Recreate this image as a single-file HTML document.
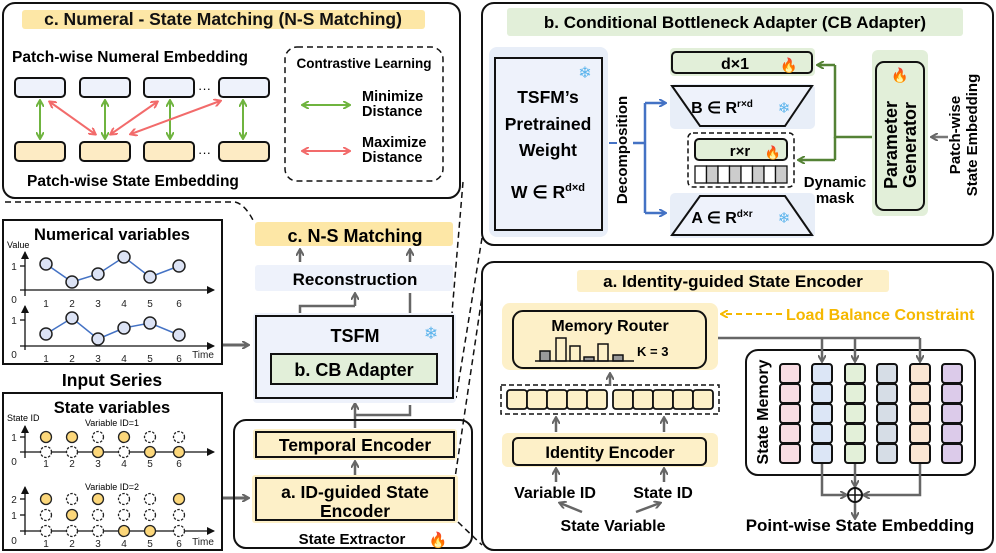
<!DOCTYPE html>
<html><head><meta charset="utf-8"><style>
body{margin:0;background:#fff}
svg{display:block;font-family:"Liberation Sans",sans-serif}
.b{font-weight:bold}
</style></head><body>
<svg width="996" height="553" viewBox="0 0 996 553" xmlns="http://www.w3.org/2000/svg">
<defs>
<marker id="ag" markerWidth="8" markerHeight="8" refX="6" refY="4" orient="auto-start-reverse" markerUnits="userSpaceOnUse"><path d="M0,0 L7,4 L0,8" fill="none" stroke="#6fb43f" stroke-width="2"/></marker>
<marker id="ar" markerWidth="8" markerHeight="8" refX="6" refY="4" orient="auto-start-reverse" markerUnits="userSpaceOnUse"><path d="M0,0 L7,4 L0,8" fill="none" stroke="#f26b6b" stroke-width="2"/></marker>
<marker id="ay" markerWidth="8" markerHeight="8" refX="6" refY="4" orient="auto-start-reverse" markerUnits="userSpaceOnUse"><path d="M0,0 L7,4 L0,8" fill="none" stroke="#666" stroke-width="2"/></marker>
<marker id="ab" markerWidth="8" markerHeight="8" refX="6" refY="4" orient="auto-start-reverse" markerUnits="userSpaceOnUse"><path d="M0,0 L7,4 L0,8" fill="none" stroke="#4472c4" stroke-width="2"/></marker>
<marker id="agn" markerWidth="8" markerHeight="8" refX="6" refY="4" orient="auto-start-reverse" markerUnits="userSpaceOnUse"><path d="M0,0 L7,4 L0,8" fill="none" stroke="#548235" stroke-width="2"/></marker>
<marker id="ao" markerWidth="8" markerHeight="8" refX="6" refY="4" orient="auto-start-reverse" markerUnits="userSpaceOnUse"><path d="M0,0 L7,4 L0,8" fill="none" stroke="#f5b800" stroke-width="2"/></marker>
<marker id="ak" markerWidth="8" markerHeight="8" refX="7" refY="4" orient="auto" markerUnits="userSpaceOnUse"><path d="M0,0 L8,4 L0,8 Z" fill="#111"/></marker>
</defs>

<!-- ===== Panel c ===== -->
<rect x="3" y="3" width="457" height="195" rx="12" fill="#fff" stroke="#111" stroke-width="2"/>
<rect x="22" y="10" width="403" height="19" rx="3" fill="#fde7a6"/>
<text x="223" y="25" font-size="17.5" class="b" text-anchor="middle" fill="#111">c. Numeral - State Matching (N-S Matching)</text>
<text x="12" y="62" font-size="15.5" class="b">Patch-wise Numeral Embedding</text>
<g stroke="#111" stroke-width="2">
<rect x="15" y="78" width="50" height="19" rx="4" fill="#eef2fb"/>
<rect x="80" y="78" width="50" height="19" rx="4" fill="#eef2fb"/>
<rect x="144" y="78" width="50" height="19" rx="4" fill="#eef2fb"/>
<rect x="219" y="78" width="50" height="19" rx="4" fill="#eef2fb"/>
<rect x="15" y="142" width="50" height="19" rx="4" fill="#fdebc4"/>
<rect x="80" y="142" width="50" height="19" rx="4" fill="#fdebc4"/>
<rect x="144" y="142" width="50" height="19" rx="4" fill="#fdebc4"/>
<rect x="219" y="142" width="50" height="19" rx="4" fill="#fdebc4"/>
</g>
<text x="198" y="93" font-size="13">···</text>
<text x="198" y="157" font-size="13">···</text>
<g stroke-width="2" fill="none">
<line x1="40" y1="101" x2="40" y2="138" stroke="#6fb43f" marker-start="url(#ag)" marker-end="url(#ag)"/>
<line x1="105" y1="101" x2="105" y2="138" stroke="#6fb43f" marker-start="url(#ag)" marker-end="url(#ag)"/>
<line x1="170" y1="101" x2="170" y2="138" stroke="#6fb43f" marker-start="url(#ag)" marker-end="url(#ag)"/>
<line x1="243" y1="101" x2="243" y2="138" stroke="#6fb43f" marker-start="url(#ag)" marker-end="url(#ag)"/>
<line x1="50" y1="102" x2="95" y2="134" stroke="#f26b6b" marker-start="url(#ar)" marker-end="url(#ar)"/>
<line x1="157" y1="102" x2="111" y2="134" stroke="#f26b6b" marker-start="url(#ar)" marker-end="url(#ar)"/>
<line x1="220" y1="101" x2="131" y2="134" stroke="#f26b6b" marker-start="url(#ar)" marker-end="url(#ar)"/>
</g>
<text x="27" y="186" font-size="15.5" class="b">Patch-wise State Embedding</text>
<rect x="285" y="47" width="158" height="134" rx="12" fill="none" stroke="#111" stroke-width="1.5" stroke-dasharray="6,4"/>
<text x="364" y="68" font-size="13.5" class="b" text-anchor="middle">Contrastive Learning</text>
<line x1="303" y1="105" x2="349" y2="105" stroke="#6fb43f" stroke-width="2" marker-start="url(#ag)" marker-end="url(#ag)"/>
<text x="362" y="101" font-size="14.5" class="b">Minimize</text>
<text x="362" y="116" font-size="14.5" class="b">Distance</text>
<line x1="303" y1="151" x2="349" y2="151" stroke="#f26b6b" stroke-width="2" marker-start="url(#ar)" marker-end="url(#ar)"/>
<text x="362" y="147" font-size="14.5" class="b">Maximize</text>
<text x="362" y="162" font-size="14.5" class="b">Distance</text>

<!-- dashed connectors -->
<g fill="none" stroke="#111" stroke-width="1.5" stroke-dasharray="6,4">
<path d="M5,202 L235,202 Q245,204 254,222"/>
<line x1="463" y1="182" x2="452" y2="313"/>
<line x1="482" y1="238" x2="456" y2="398"/>
<line x1="483" y1="290" x2="455" y2="478"/>
<line x1="458" y1="522" x2="482" y2="545"/>
</g>

<!-- ===== Panel b ===== -->
<rect x="482" y="3" width="511" height="242" rx="12" fill="#fff" stroke="#111" stroke-width="2"/>
<rect x="507" y="8" width="456" height="28" rx="3" fill="#e2efd9"/>
<text x="735" y="28" font-size="17" class="b" text-anchor="middle">b.  Conditional Bottleneck Adapter (CB Adapter)</text>
<rect x="489" y="47" width="119" height="190" rx="8" fill="#e8eef8"/>
<rect x="495" y="58" width="107" height="172" fill="#eef2fb" stroke="#111" stroke-width="2"/>
<text x="585" y="78" font-size="16" fill="#5bb4ec" text-anchor="middle">❄</text>
<g font-size="17.5" class="b" text-anchor="middle">
<text x="548" y="103">TSFM’s</text>
<text x="548" y="130">Pretrained</text>
<text x="548" y="156">Weight</text>
<text x="548" y="198">W ∈ R<tspan font-size="11" dy="-7">d×d</tspan></text>
</g>
<text transform="translate(627,150) rotate(-90)" font-size="15" class="b" text-anchor="middle">Decomposition</text>
<line x1="609" y1="143" x2="617" y2="143" stroke="#4472c4" stroke-width="2"/>
<g fill="none" stroke="#4472c4" stroke-width="2.5">
<path d="M633,143 H645"/>
<path d="M645,103 V213"/>
<line x1="645" y1="103" x2="665" y2="103" marker-end="url(#ab)"/>
<line x1="645" y1="213" x2="665" y2="213" marker-end="url(#ab)"/>
</g>
<rect x="670" y="48" width="145" height="28" rx="4" fill="#e2efd9"/>
<rect x="672" y="52" width="140" height="21" rx="4" fill="#e2efd9" stroke="#111" stroke-width="2"/>
<text x="735" y="69" font-size="16" class="b" text-anchor="middle">d×1</text>
<text x="789" y="70" font-size="14" fill="#f05a1a" text-anchor="middle">🔥</text>
<rect x="670" y="84" width="145" height="45" rx="5" fill="#e8eef8"/>
<polygon points="672,86 812,86 785,126 700,126" fill="#eef2fb" stroke="#111" stroke-width="2"/>
<text x="722" y="113" font-size="16" class="b" text-anchor="middle">B ∈ R<tspan font-size="10" dy="-6">r×d</tspan></text>
<text x="784" y="113" font-size="15" fill="#5bb4ec" text-anchor="middle">❄</text>
<rect x="688" y="133" width="106" height="54" rx="5" fill="none" stroke="#111" stroke-width="1.5" stroke-dasharray="5,3"/>
<rect x="695" y="139" width="92" height="21" rx="4" fill="#e2efd9" stroke="#111" stroke-width="2"/>
<text x="740" y="156" font-size="15" class="b" text-anchor="middle">r×r</text>
<text x="773" y="157" font-size="13" fill="#f05a1a" text-anchor="middle">🔥</text>
<g stroke="#111" stroke-width="1.3">
<rect x="695" y="166" width="11.5" height="17" fill="#fff"/><rect x="706.5" y="166" width="11.5" height="17" fill="#ccc"/>
<rect x="718" y="166" width="11.5" height="17" fill="#fff"/><rect x="729.5" y="166" width="11.5" height="17" fill="#ccc"/>
<rect x="741" y="166" width="11.5" height="17" fill="#fff"/><rect x="752.5" y="166" width="11.5" height="17" fill="#ccc"/>
<rect x="764" y="166" width="11.5" height="17" fill="#fff"/><rect x="775.5" y="166" width="11.5" height="17" fill="#ccc"/>
</g>
<text x="835" y="187" font-size="15" class="b" text-anchor="middle">Dynamic</text>
<text x="835" y="203" font-size="15" class="b" text-anchor="middle">mask</text>
<rect x="670" y="193" width="145" height="45" rx="5" fill="#e8eef8"/>
<polygon points="700,196 785,196 812,235 672,235" fill="#eef2fb" stroke="#111" stroke-width="2"/>
<text x="722" y="223" font-size="16" class="b" text-anchor="middle">A ∈ R<tspan font-size="10" dy="-6">d×r</tspan></text>
<text x="784" y="223" font-size="15" fill="#5bb4ec" text-anchor="middle">❄</text>
<g fill="none" stroke="#548235" stroke-width="2.5">
<path d="M872,137 H835 V65"/>
<path d="M835,137 V160"/>
<line x1="835" y1="65" x2="818" y2="65" marker-end="url(#agn)"/>
<line x1="835" y1="160" x2="799" y2="160" marker-end="url(#agn)"/>
</g>
<rect x="872" y="50" width="56" height="166" rx="6" fill="#e2efd9"/>
<rect x="876" y="62" width="48" height="148" rx="8" fill="#e2efd9" stroke="#111" stroke-width="2"/>
<text x="900" y="80" font-size="14" fill="#f05a1a" text-anchor="middle">🔥</text>
<text transform="translate(897,145) rotate(-90)" font-size="18" class="b" text-anchor="middle">Parameter</text>
<text transform="translate(916,145) rotate(-90)" font-size="18" class="b" text-anchor="middle">Generator</text>
<line x1="948" y1="137" x2="932" y2="137" stroke="#777" stroke-width="2.5" marker-end="url(#ay)"/>
<text transform="translate(960,135) rotate(-90)" font-size="15" class="b" text-anchor="middle">Patch-wise</text>
<text transform="translate(977,135) rotate(-90)" font-size="15" class="b" text-anchor="middle">State Embedding</text>

<!-- ===== Panel a ===== -->
<rect x="482" y="262" width="511" height="288" rx="12" fill="#fff" stroke="#111" stroke-width="2"/>
<rect x="577" y="270" width="312" height="22" rx="3" fill="#fdf0c8"/>
<text x="733" y="287" font-size="17" class="b" text-anchor="middle">a. Identity-guided State Encoder</text>
<rect x="502" y="303" width="216" height="67" rx="8" fill="#fdf0c8"/>
<rect x="513" y="311" width="193" height="57" rx="10" fill="#fdf0c8" stroke="#111" stroke-width="2"/>
<text x="610" y="331" font-size="16" class="b" text-anchor="middle">Memory  Router</text>
<g stroke="#111" stroke-width="1.5">
<rect x="540" y="351" width="10" height="10" fill="#999"/>
<rect x="556" y="338" width="10" height="23" fill="#fdf0c8"/>
<rect x="570" y="346" width="10" height="15" fill="#fdf0c8"/>
<rect x="584" y="357" width="10" height="4" fill="#999"/>
<rect x="598" y="344" width="10" height="17" fill="#fdf0c8"/>
<rect x="613" y="355" width="10" height="6" fill="#999"/>
</g>
<line x1="535" y1="361" x2="634" y2="361" stroke="#111" stroke-width="1.5"/>
<text x="637" y="356" font-size="13" class="b">K = 3</text>
<line x1="782" y1="314" x2="722" y2="314" stroke="#f5b800" stroke-width="2" stroke-dasharray="6,4" marker-end="url(#ao)"/>
<text x="786" y="320" font-size="16" class="b" fill="#f5b800">Load Balance Constraint</text>
<rect x="501" y="385" width="218" height="29" fill="none" stroke="#111" stroke-width="1.5" stroke-dasharray="5,3"/>
<g stroke="#111" stroke-width="1.8" fill="#fdf0c8">
<rect x="507" y="390" width="20" height="19" rx="3"/><rect x="527" y="390" width="20" height="19" rx="3"/><rect x="547" y="390" width="20" height="19" rx="3"/><rect x="567" y="390" width="20" height="19" rx="3"/><rect x="587" y="390" width="20" height="19" rx="3"/>
<rect x="613" y="390" width="20" height="19" rx="3"/><rect x="633" y="390" width="20" height="19" rx="3"/><rect x="653" y="390" width="20" height="19" rx="3"/><rect x="673" y="390" width="20" height="19" rx="3"/><rect x="693" y="390" width="20" height="19" rx="3"/>
</g>
<g stroke="#666" stroke-width="2.5">
<line x1="610" y1="386" x2="610" y2="374" marker-end="url(#ay)"/>
<line x1="556" y1="432" x2="556" y2="418" marker-end="url(#ay)"/>
<line x1="664" y1="432" x2="664" y2="418" marker-end="url(#ay)"/>
<line x1="556" y1="482" x2="556" y2="469" marker-end="url(#ay)"/>
<line x1="664" y1="482" x2="664" y2="469" marker-end="url(#ay)"/>
<line x1="582" y1="512" x2="560" y2="503" marker-end="url(#ay)"/>
<line x1="636" y1="512" x2="660" y2="503" marker-end="url(#ay)"/>
</g>
<rect x="502" y="433" width="216" height="34" rx="6" fill="#fdf0c8"/>
<rect x="513" y="438" width="193" height="27" rx="5" fill="#fdf0c8" stroke="#111" stroke-width="2"/>
<text x="610" y="458" font-size="16.5" class="b" text-anchor="middle">Identity Encoder</text>
<text x="555" y="498" font-size="16" class="b" text-anchor="middle">Variable ID</text>
<text x="663" y="498" font-size="16" class="b" text-anchor="middle">State ID</text>
<text x="613" y="531" font-size="16" class="b" text-anchor="middle">State Variable</text>

<rect x="746" y="350" width="229" height="125" rx="12" fill="#fff" stroke="#111" stroke-width="2"/>
<text transform="translate(768,412) rotate(-90)" font-size="16" class="b" text-anchor="middle">State Memory</text>
<g stroke="#111" stroke-width="2">
<g fill="#f9dde3"><rect x="780" y="364" width="20" height="19" rx="3"/><rect x="780" y="384" width="20" height="19" rx="3"/><rect x="780" y="404" width="20" height="19" rx="3"/><rect x="780" y="424" width="20" height="19" rx="3"/><rect x="780" y="444" width="20" height="19" rx="3"/></g>
<g fill="#dce6f6"><rect x="812" y="364" width="20" height="19" rx="3"/><rect x="812" y="384" width="20" height="19" rx="3"/><rect x="812" y="404" width="20" height="19" rx="3"/><rect x="812" y="424" width="20" height="19" rx="3"/><rect x="812" y="444" width="20" height="19" rx="3"/></g>
<g fill="#e3f0d9"><rect x="845" y="364" width="20" height="19" rx="3"/><rect x="845" y="384" width="20" height="19" rx="3"/><rect x="845" y="404" width="20" height="19" rx="3"/><rect x="845" y="424" width="20" height="19" rx="3"/><rect x="845" y="444" width="20" height="19" rx="3"/></g>
<g fill="#d6dde6"><rect x="877" y="364" width="20" height="19" rx="3"/><rect x="877" y="384" width="20" height="19" rx="3"/><rect x="877" y="404" width="20" height="19" rx="3"/><rect x="877" y="424" width="20" height="19" rx="3"/><rect x="877" y="444" width="20" height="19" rx="3"/></g>
<g fill="#fbe6d3"><rect x="910" y="364" width="20" height="19" rx="3"/><rect x="910" y="384" width="20" height="19" rx="3"/><rect x="910" y="404" width="20" height="19" rx="3"/><rect x="910" y="424" width="20" height="19" rx="3"/><rect x="910" y="444" width="20" height="19" rx="3"/></g>
<g fill="#dccbea"><rect x="942" y="364" width="20" height="19" rx="3"/><rect x="942" y="384" width="20" height="19" rx="3"/><rect x="942" y="404" width="20" height="19" rx="3"/><rect x="942" y="424" width="20" height="19" rx="3"/><rect x="942" y="444" width="20" height="19" rx="3"/></g>
</g>
<g fill="none" stroke="#666" stroke-width="2.5">
<path d="M718,338 H920"/>
<line x1="822" y1="338" x2="822" y2="361" marker-end="url(#ay)"/>
<line x1="855" y1="338" x2="855" y2="361" marker-end="url(#ay)"/>
<line x1="920" y1="338" x2="920" y2="361" marker-end="url(#ay)"/>
<path d="M822,464 V495 H846" marker-end="url(#ay)"/>
<path d="M920,464 V495 H864" marker-end="url(#ay)"/>
<line x1="855" y1="464" x2="855" y2="486" marker-end="url(#ay)"/>
<line x1="855" y1="503" x2="855" y2="518" marker-end="url(#ay)"/>
</g>
<circle cx="855" cy="495" r="7" fill="#fff" stroke="#111" stroke-width="2"/>
<path d="M848,495 H862 M855,488 V502" stroke="#111" stroke-width="1.5"/>
<text x="860" y="531" font-size="17" class="b" text-anchor="middle">Point-wise State Embedding</text>

<!-- ===== Left series ===== -->
<rect x="3" y="220" width="219" height="144" fill="#fff" stroke="#111" stroke-width="2"/>
<text x="112" y="240" font-size="16.5" class="b" text-anchor="middle">Numerical variables</text>
<text x="7" y="248" font-size="9">Value</text>
<g stroke="#111" stroke-width="1.3" fill="none">
<line x1="25" y1="296" x2="25" y2="252" marker-end="url(#ak)"/>
<line x1="20" y1="290" x2="214" y2="290" marker-end="url(#ak)"/>
<line x1="25" y1="350" x2="25" y2="306" marker-end="url(#ak)"/>
<line x1="20" y1="346" x2="214" y2="346" marker-end="url(#ak)"/>
<line x1="20" y1="266" x2="25" y2="266"/><line x1="20" y1="320" x2="25" y2="320"/>
</g>
<polyline points="46,264 72,282 98,274 124,257 150,277 179,266" fill="none" stroke="#4472c4" stroke-width="1.5"/>
<polyline points="46,334 72,318 98,339 124,328 150,323 179,335" fill="none" stroke="#4472c4" stroke-width="1.5"/>
<g fill="#dce3f5" stroke="#222" stroke-width="1.5">
<circle cx="46" cy="264" r="6"/><circle cx="72" cy="282" r="6"/><circle cx="98" cy="274" r="6"/><circle cx="124" cy="257" r="6"/><circle cx="150" cy="277" r="6"/><circle cx="179" cy="266" r="6"/>
<circle cx="46" cy="334" r="6"/><circle cx="72" cy="318" r="6"/><circle cx="98" cy="339" r="6"/><circle cx="124" cy="328" r="6"/><circle cx="150" cy="323" r="6"/><circle cx="179" cy="335" r="6"/>
</g>
<g font-size="10" text-anchor="middle" fill="#222">
<text x="14" y="270">1</text><text x="14" y="303">0</text><text x="14" y="324">1</text><text x="14" y="358">0</text>
<text x="46" y="307">1</text><text x="72" y="307">2</text><text x="98" y="307">3</text><text x="124" y="307">4</text><text x="150" y="307">5</text><text x="179" y="307">6</text>
<text x="46" y="362">1</text><text x="72" y="362">2</text><text x="98" y="362">3</text><text x="124" y="362">4</text><text x="150" y="362">5</text><text x="179" y="362">6</text>
<text x="203" y="358">Time</text>
</g>
<text x="112" y="386" font-size="17.5" class="b" text-anchor="middle">Input Series</text>

<rect x="3" y="393" width="219" height="157" fill="#fff" stroke="#111" stroke-width="2"/>
<text x="112" y="413" font-size="16.5" class="b" text-anchor="middle">State variables</text>
<text x="7" y="421" font-size="9">State ID</text>
<text x="112" y="426" font-size="9" text-anchor="middle">Variable ID=1</text>
<text x="112" y="490" font-size="9" text-anchor="middle">Variable ID=2</text>
<g stroke="#111" stroke-width="1.3" fill="none">
<line x1="25" y1="458" x2="25" y2="426" marker-end="url(#ak)"/>
<line x1="20" y1="452" x2="214" y2="452" marker-end="url(#ak)"/>
<line x1="25" y1="535" x2="25" y2="487" marker-end="url(#ak)"/>
<line x1="20" y1="531" x2="214" y2="531" marker-end="url(#ak)"/>
<line x1="20" y1="437" x2="25" y2="437"/><line x1="20" y1="499" x2="25" y2="499"/><line x1="20" y1="515" x2="25" y2="515"/>
</g>
<g stroke="#222" stroke-width="1.3">
<g fill="#fcd77a"><circle cx="46" cy="437" r="5.5"/><circle cx="72" cy="437" r="5.5"/><circle cx="124" cy="437" r="5.5"/><circle cx="98" cy="452" r="5.5"/><circle cx="150" cy="452" r="5.5"/><circle cx="179" cy="452" r="5.5"/>
<circle cx="46" cy="499" r="5.5"/><circle cx="98" cy="499" r="5.5"/><circle cx="179" cy="499" r="5.5"/><circle cx="72" cy="515" r="5.5"/><circle cx="124" cy="531" r="5.5"/><circle cx="150" cy="531" r="5.5"/></g>
<g fill="#fff" stroke-dasharray="2.5,1.5"><circle cx="98" cy="437" r="5.5"/><circle cx="150" cy="437" r="5.5"/><circle cx="179" cy="437" r="5.5"/><circle cx="46" cy="452" r="5.5"/><circle cx="72" cy="452" r="5.5"/><circle cx="124" cy="452" r="5.5"/>
<circle cx="72" cy="499" r="5.5"/><circle cx="124" cy="499" r="5.5"/><circle cx="150" cy="499" r="5.5"/>
<circle cx="46" cy="515" r="5.5"/><circle cx="98" cy="515" r="5.5"/><circle cx="124" cy="515" r="5.5"/><circle cx="150" cy="515" r="5.5"/><circle cx="179" cy="515" r="5.5"/>
<circle cx="46" cy="531" r="5.5"/><circle cx="72" cy="531" r="5.5"/><circle cx="98" cy="531" r="5.5"/><circle cx="179" cy="531" r="5.5"/></g>
</g>
<g font-size="10" text-anchor="middle" fill="#222">
<text x="14" y="441">1</text><text x="14" y="465">0</text>
<text x="46" y="467">1</text><text x="72" y="467">2</text><text x="98" y="467">3</text><text x="124" y="467">4</text><text x="150" y="467">5</text><text x="179" y="467">6</text>
<text x="14" y="503">2</text><text x="14" y="519">1</text><text x="14" y="544">0</text>
<text x="46" y="547">1</text><text x="72" y="547">2</text><text x="98" y="547">3</text><text x="124" y="547">4</text><text x="150" y="547">5</text><text x="179" y="547">6</text>
<text x="203" y="545">Time</text>
</g>

<!-- ===== Middle column ===== -->
<g stroke="#666" stroke-width="3">
<line x1="223" y1="345" x2="248" y2="345" marker-end="url(#ay)"/>
<line x1="223" y1="498" x2="248" y2="498" marker-end="url(#ay)"/>
</g>
<rect x="255" y="222" width="198" height="24" rx="3" fill="#fde7a6"/>
<text x="355" y="242" font-size="18" class="b" text-anchor="middle">c. N-S Matching</text>
<rect x="255" y="265" width="198" height="26" rx="3" fill="#eef2fb"/>
<text x="355" y="285" font-size="17" class="b" text-anchor="middle">Reconstruction</text>
<g fill="none" stroke="#666" stroke-width="2.5">
<line x1="300" y1="262" x2="300" y2="250" marker-end="url(#ay)"/>
<line x1="410" y1="262" x2="410" y2="250" marker-end="url(#ay)"/>
<path d="M300,315 V306 H355"/>
<line x1="355" y1="306" x2="355" y2="294" marker-end="url(#ay)"/>
<line x1="410" y1="315" x2="410" y2="293"/>
<line x1="355" y1="428" x2="355" y2="404" marker-end="url(#ay)"/>
<path d="M355,415 H410 V405"/>
<line x1="355" y1="476" x2="355" y2="462" marker-end="url(#ay)"/>
</g>
<rect x="253" y="313" width="203" height="90" rx="4" fill="#eef2fb"/>
<rect x="256" y="316" width="197" height="82" fill="#eef2fb" stroke="#111" stroke-width="2"/>
<text x="355" y="342" font-size="18" class="b" text-anchor="middle">TSFM</text>
<text x="431" y="339" font-size="17" fill="#5bb4ec" text-anchor="middle">❄</text>
<rect x="271" y="354" width="166" height="30" fill="#e2efd9" stroke="#111" stroke-width="2"/>
<text x="354" y="376" font-size="18" class="b" text-anchor="middle">b. CB Adapter</text>
<rect x="234" y="420" width="238" height="128" rx="12" fill="none" stroke="#111" stroke-width="2"/>
<rect x="253" y="429" width="204" height="31" rx="3" fill="#fdf0c8"/>
<rect x="256" y="432" width="198" height="25" fill="#fdf0c8" stroke="#111" stroke-width="2"/>
<text x="355" y="451" font-size="17.5" class="b" text-anchor="middle">Temporal Encoder</text>
<rect x="252" y="475" width="206" height="48" rx="3" fill="#fdf0c8"/>
<rect x="256" y="478" width="198" height="42" fill="#fdf0c8" stroke="#111" stroke-width="2"/>
<text x="355" y="498" font-size="17.5" class="b" text-anchor="middle">a. ID-guided  State</text>
<text x="355" y="517" font-size="17.5" class="b" text-anchor="middle">Encoder</text>
<text x="352" y="544" font-size="15" class="b" text-anchor="middle">State Extractor</text>
<text x="438" y="545" font-size="15" fill="#f05a1a" text-anchor="middle">🔥</text>
</svg>
</body></html>
